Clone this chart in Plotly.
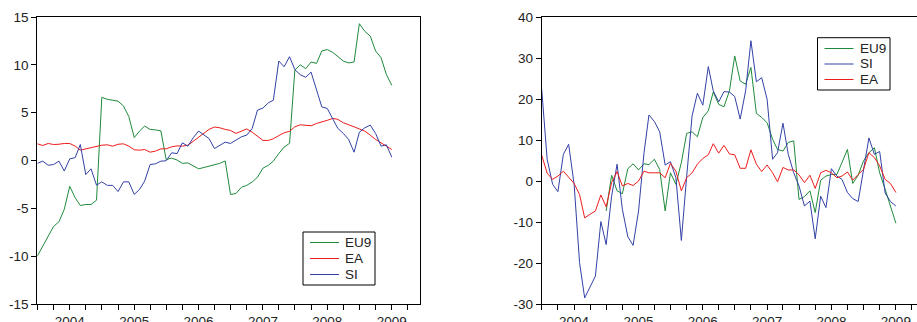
import pandas as pd
import plotly.graph_objects as go

# Monthly observations, 2003M07 - 2009M01
months = pd.date_range("2003-07-01", "2009-01-01", freq="MS").strftime("%Y-%m-%d").tolist()

# Left panel: levels
eu9_left = [-10.0, -9.0, -8.0, -6.9, -6.4, -5.1, -2.7, -3.9, -4.7, -4.6, -4.6, -4.15,
            6.6, 6.4, 6.3, 6.2, 5.7, 4.6, 2.4, 3.1, 3.6, 3.25, 3.2, 3.1,
            0.1, 0.25, 0.05, -0.3, -0.25, -0.6, -0.87, -0.73, -0.6, -0.45, -0.3, -0.05,
            -3.55, -3.45, -2.8, -2.6, -2.25, -1.75, -0.8, -0.5, -0.07, 0.73, 1.4, 1.8,
            9.45, 10.0, 9.6, 10.3, 10.15, 11.45, 11.6, 11.3, 10.85, 10.4, 10.2, 10.3,
            14.3, 13.5, 13.0, 11.45, 10.75, 9.0, 7.85]
ea_left = [1.75, 1.57, 1.78, 1.67, 1.7, 1.78, 1.78, 1.5, 1.08, 1.22, 1.4, 1.5,
           1.6, 1.64, 1.5, 1.7, 1.74, 1.5, 1.12, 1.08, 1.15, 0.87, 0.98, 1.22,
           1.22, 1.43, 1.53, 1.5, 1.6, 2.0, 2.44, 2.9, 3.25, 3.5, 3.42, 3.25,
           3.14, 2.83, 3.03, 3.3, 2.96, 2.55, 2.1, 2.1, 2.27, 2.6, 2.9, 3.05,
           3.52, 3.73, 3.7, 3.63, 3.87, 4.0, 4.2, 4.4, 4.3, 3.95, 3.77, 3.52,
           3.3, 3.07, 2.65, 2.2, 1.85, 1.5, 1.15]
si_left = [-0.3, -0.07, -0.5, -0.42, -0.07, -1.1, 0.17, 0.3, 1.67, -1.47, -0.87, -2.58,
           -2.23, -2.6, -2.6, -3.25, -2.23, -2.23, -3.55, -3.0, -2.15, -0.42, -0.35, -0.07,
           -0.03, 0.8, 0.73, 1.85, 1.5, 2.37, 3.07, 2.65, 2.3, 1.25, 1.57, 1.92,
           1.78, 2.1, 2.48, 2.65, 3.35, 5.27, 5.48, 6.03, 6.3, 10.4, 9.8, 10.85,
           9.5, 8.96, 8.7, 9.24, 7.25, 5.6, 5.44, 4.3, 3.35, 2.83, 2.2, 0.87,
           2.96, 3.42, 3.7, 2.83, 1.5, 1.64, 0.35]

# Right panel: changes (EU9 available from 2004M07)
eu9_right = [None] * 12 + [
    -7.3, 1.4, -2.4, -3.1, 3.0, 4.2, 2.7, 4.2, 4.0, 5.3, 2.8, -7.3,
    2.0, -0.8, 4.5, 11.6, 12.0, 10.8, 15.5, 17.1, 21.7, 18.7, 18.1, 22.0,
    30.5, 24.4, 23.6, 27.7, 16.5, 15.5, 14.2, 10.2, 7.7, 7.3, 9.4, 9.8,
    -4.5, -3.8, -2.4, -7.7, 0.2, 1.2, 1.6, 1.6, 4.5, 7.7, -0.6, 1.4,
    4.9, 6.9, 8.1, 2.0, -2.0, -6.3, -10.3]
si_right = [22.4, 5.3, -0.8, -2.6, 6.5, 8.95, -0.8, -19.9, -28.5, -25.8, -23.2, -9.9,
            -15.5, -3.7, 4.1, -6.9, -13.6, -15.7, -7.3, 6.9, 16.1, 14.5, 12.0, 3.9,
            4.7, 0.8, -14.5, 1.0, 15.9, 21.4, 18.5, 27.9, 22.0, 19.3, 21.8, 21.7,
            20.6, 15.1, 22.0, 34.2, 24.2, 25.2, 19.9, 5.3, 6.9, 14.1, 6.5, 2.0,
            -1.2, -6.1, -4.9, -14.1, -3.7, -6.5, 3.0, 1.2, 0.4, -2.8, -4.3, -5.0,
            2.5, 10.5, 6.5, 7.2, -2.9, -5.0, -6.1]
ea_right = [6.3, 1.9, 0.4, 1.2, 2.4, 0.8, -0.6, -3.3, -9.0, -8.1, -7.3, -3.4,
            -6.3, -0.4, 2.3, -1.2, -0.6, -1.1, 0.0, 2.4, 2.0, 2.0, 2.0, 0.8,
            4.3, 2.4, -2.4, 0.8, 2.0, 4.1, 5.5, 6.4, 9.1, 6.8, 8.7, 6.6,
            6.4, 3.1, 3.1, 7.6, 4.1, 2.3, 3.9, 2.0, -0.2, 3.3, 2.7, 2.7,
            1.5, -0.4, 1.4, -1.8, 2.0, 2.6, 2.0, 0.8, 1.2, 2.2, 0.2, 1.6,
            2.8, 6.9, 5.7, 3.7, 0.4, -0.6, -2.8]

year_ticks = ["2004-01-01", "2005-01-01", "2006-01-01", "2007-01-01", "2008-01-01", "2009-01-01"]
year_labels = ["2004", "2005", "2006", "2007", "2008", "2009"]
left_yticks = [-15, -10, -5, 0, 5, 10, 15]
right_yticks = [-30, -20, -10, 0, 10, 20, 30, 40]

GREEN = "#1e8a3a"
RED = "#ee1c1c"
BLUE = "#3341a6"
FONT = "Liberation Sans, Arial, sans-serif"
TXT = "#222"

W, H = 917, 322
ML, MR, MT, MB = 0, 0, 17, 18
PH = H - MT - MB  # plot-area height in px


def px(x):
    return (x - ML) / (W - ML - MR)


def py(y):
    return (H - MB - y) / PH


fig = go.Figure()


def add(x, y, name, color, xa, ya):
    fig.add_trace(go.Scatter(x=x, y=y, name=name, mode="lines",
                             line=dict(color=color, width=1),
                             xaxis=xa, yaxis=ya, showlegend=False,
                             connectgaps=False))


add(months, eu9_left, "EU9", GREEN, "x", "y")
add(months, ea_left, "EA", RED, "x", "y")
add(months, si_left, "SI", BLUE, "x", "y")
add(months, eu9_right, "EU9", GREEN, "x2", "y2")
add(months, si_right, "SI", BLUE, "x2", "y2")
add(months, ea_right, "EA", RED, "x2", "y2")

# boxed legends in the EViews style (compact rows)
shapes, annotations = [], []


def legend_box(x0, x1, y0, y1, rows):
    shapes.append(dict(type="rect", xref="paper", yref="paper",
                       x0=px(x0), x1=px(x1), y0=py(y1), y1=py(y0),
                       line=dict(color="black", width=1), fillcolor="white",
                       layer="above"))
    for (name, color, yc) in rows:
        shapes.append(dict(type="line", xref="paper", yref="paper",
                           x0=px(x0 + 7), x1=px(x0 + 36), y0=py(yc), y1=py(yc),
                           line=dict(color=color, width=1), layer="above"))
        annotations.append(dict(xref="paper", yref="paper", x=px(x0 + 40), y=py(yc),
                                text=name, showarrow=False, xanchor="left",
                                yanchor="middle",
                                font=dict(family=FONT, size=13.5, color=TXT)))


legend_box(303, 375, 232, 285, [("EU9", GREEN, 242.5), ("EA", RED, 258.5), ("SI", BLUE, 274.5)])
legend_box(817.5, 890, 37.7, 90, [("EU9", GREEN, 48.5), ("SI", BLUE, 64), ("EA", RED, 79.5)])

xcommon = dict(type="date", tickmode="array", tickvals=year_ticks, ticktext=year_labels,
               ticks="outside", ticklen=5, tickcolor="black", tickwidth=1,
               showline=True, linecolor="black", linewidth=1, mirror=True,
               showgrid=False, zeroline=False, automargin=False,
               minor=dict(ticks="outside", ticklen=5, tickcolor="black", tickwidth=1,
                          dtick="M3", tick0="2003-07-01", showgrid=False),
               tickfont=dict(family=FONT, size=13.5, color=TXT))
ycommon = dict(ticks="outside", ticklen=5, tickcolor="black", tickwidth=1,
               showline=True, linecolor="black", linewidth=1,
               showgrid=False, zeroline=False, automargin=False,
               tickfont=dict(family=FONT, size=13.5, color=TXT))

fig.update_layout(
    width=W, height=H,
    margin=dict(l=ML, r=MR, t=MT, b=MB),
    paper_bgcolor="white", plot_bgcolor="white",
    showlegend=False,
    xaxis=dict(xcommon, domain=[px(37.3), px(420)], anchor="y",
               range=["2003-07-01", "2009-06-10"]),
    yaxis=dict(ycommon, domain=[0, 1], anchor="x", range=[-15, 15],
               tickmode="array", tickvals=left_yticks,
               ticktext=[str(v) for v in left_yticks], mirror=True),
    xaxis2=dict(xcommon, domain=[px(541.7), 1.0], anchor="y2",
                range=["2003-07-01", "2009-05-01"]),
    yaxis2=dict(ycommon, domain=[0, 1], anchor="x2", range=[-30, 40],
                tickmode="array", tickvals=right_yticks,
                ticktext=[str(v) for v in right_yticks], mirror=False),
    shapes=shapes,
    annotations=annotations,
)

fig.write_html("out.html")
